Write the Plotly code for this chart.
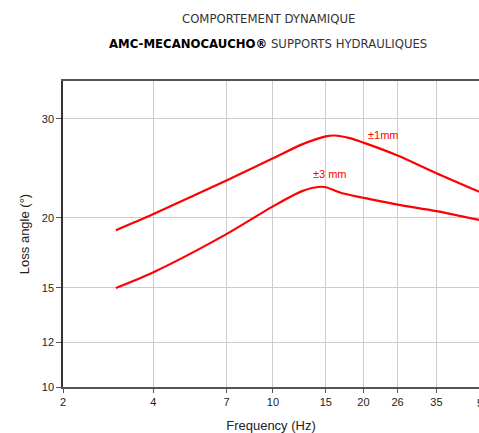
import numpy as np
import plotly.graph_objects as go

freq_1mm = [3, 4, 7, 10, 12.5, 15, 16, 18, 20, 26, 35, 50]
loss_1mm = [19.0, 20.3, 23.3, 25.5, 27.0, 27.9, 28.0, 27.7, 27.2, 25.8, 24.0, 22.1]

freq_3mm = [3, 4, 7, 10, 12.5, 14.4, 15, 17, 20, 26, 35, 50]
loss_3mm = [15.0, 16.0, 18.7, 20.95, 22.3, 22.7, 22.65, 22.1, 21.7, 21.1, 20.55, 19.75]

x_ticks = [2, 4, 7, 10, 15, 20, 26, 35]
x_edge_tick = 50
y_ticks = [10, 12, 15, 20, 30]

RED = "#ff0000"
FONT = "Liberation Sans, Arial, sans-serif"
TFONT = "Liberation Sans Narrow, DejaVu Sans Condensed, sans-serif"

fig = go.Figure()
fig.add_trace(go.Scatter(x=freq_1mm, y=loss_1mm, mode="lines",
                         line=dict(color=RED, width=2.2, shape="spline", smoothing=0.8),
                         showlegend=False, hoverinfo="skip"))
fig.add_trace(go.Scatter(x=freq_3mm, y=loss_3mm, mode="lines",
                         line=dict(color=RED, width=2.2, shape="spline", smoothing=0.8),
                         showlegend=False, hoverinfo="skip"))

W, H = 479, 433
L, T, B = 63, 81, 46
R = 0
PX_PER_DECADE = 300.4
pw = W - L - R
ph = H - T - B
x_lo = np.log10(2)
x_hi = x_lo + pw / PX_PER_DECADE

fig.update_layout(
    width=W, height=H,
    margin=dict(l=L, r=R, t=T, b=B, pad=0),
    paper_bgcolor="white", plot_bgcolor="white",
    font=dict(family=FONT, size=11, color="#222"),
)
fig.update_xaxes(
    type="log", range=[x_lo, x_hi],
    tickmode="array", tickvals=x_ticks, ticktext=[str(v) for v in x_ticks],
    showgrid=True, gridcolor="#cccccc", gridwidth=1,
    showline=True, linecolor="#555555", linewidth=1.5, mirror=True,
    ticks="outside", ticklen=4, tickcolor="#555555",
    tickfont=dict(size=11, color="#222"),
    title=dict(text="Frequency (Hz)", font=dict(size=13, color="#222"), standoff=14),
    zeroline=False,
)
fig.update_yaxes(
    type="log", range=[1, np.log10(35)],
    tickmode="array", tickvals=y_ticks, ticktext=[str(v) for v in y_ticks],
    showgrid=True, gridcolor="#cccccc", gridwidth=1,
    showline=True, linecolor="#333333", linewidth=1.5,
    ticks="outside", ticklen=5, tickcolor="#555555",
    tickfont=dict(size=11, color="#222"),
    title=dict(text="Loss angle (°)", font=dict(size=13, color="#222"), standoff=9),
    zeroline=False,
)

fig.add_annotation(x=np.log10(23.3), y=np.log10(28.1), xref="x", yref="y",
                   text="±1mm", showarrow=False, font=dict(size=11, color=RED))
fig.add_annotation(x=np.log10(15.5), y=np.log10(23.9), xref="x", yref="y",
                   text="±3 mm", showarrow=False, font=dict(size=11, color=RED))

def px(xp):
    return (xp - L) / pw
def py(yp):
    return (H - B - yp) / ph

# tick label of the last decade value, which sits on the right edge of the frame
edge_paper_x = (np.log10(x_edge_tick) - x_lo) / (x_hi - x_lo)
fig.add_annotation(x=edge_paper_x, y=py(403), xref="paper", yref="paper",
                   xanchor="center", yanchor="middle", showarrow=False,
                   text=str(x_edge_tick), font=dict(size=11, color="#222"))

fig.add_annotation(x=px(268), y=py(18), xref="paper", yref="paper",
                   xanchor="center", yanchor="middle",
                   text="COMPORTEMENT DYNAMIQUE", showarrow=False,
                   font=dict(family=TFONT, size=13, color="#333"))
fig.add_annotation(x=px(268), y=py(43), xref="paper", yref="paper",
                   xanchor="center", yanchor="middle",
                   text="<span style='color:#000'><b>AMC-MECANOCAUCHO®</b></span> SUPPORTS HYDRAULIQUES",
                   showarrow=False,
                   font=dict(family=TFONT, size=13, color="#333"))

fig.write_html("out.html", config={"displayModeBar": False},
               post_script="document.body.style.margin='0';document.body.style.overflow='hidden';")
